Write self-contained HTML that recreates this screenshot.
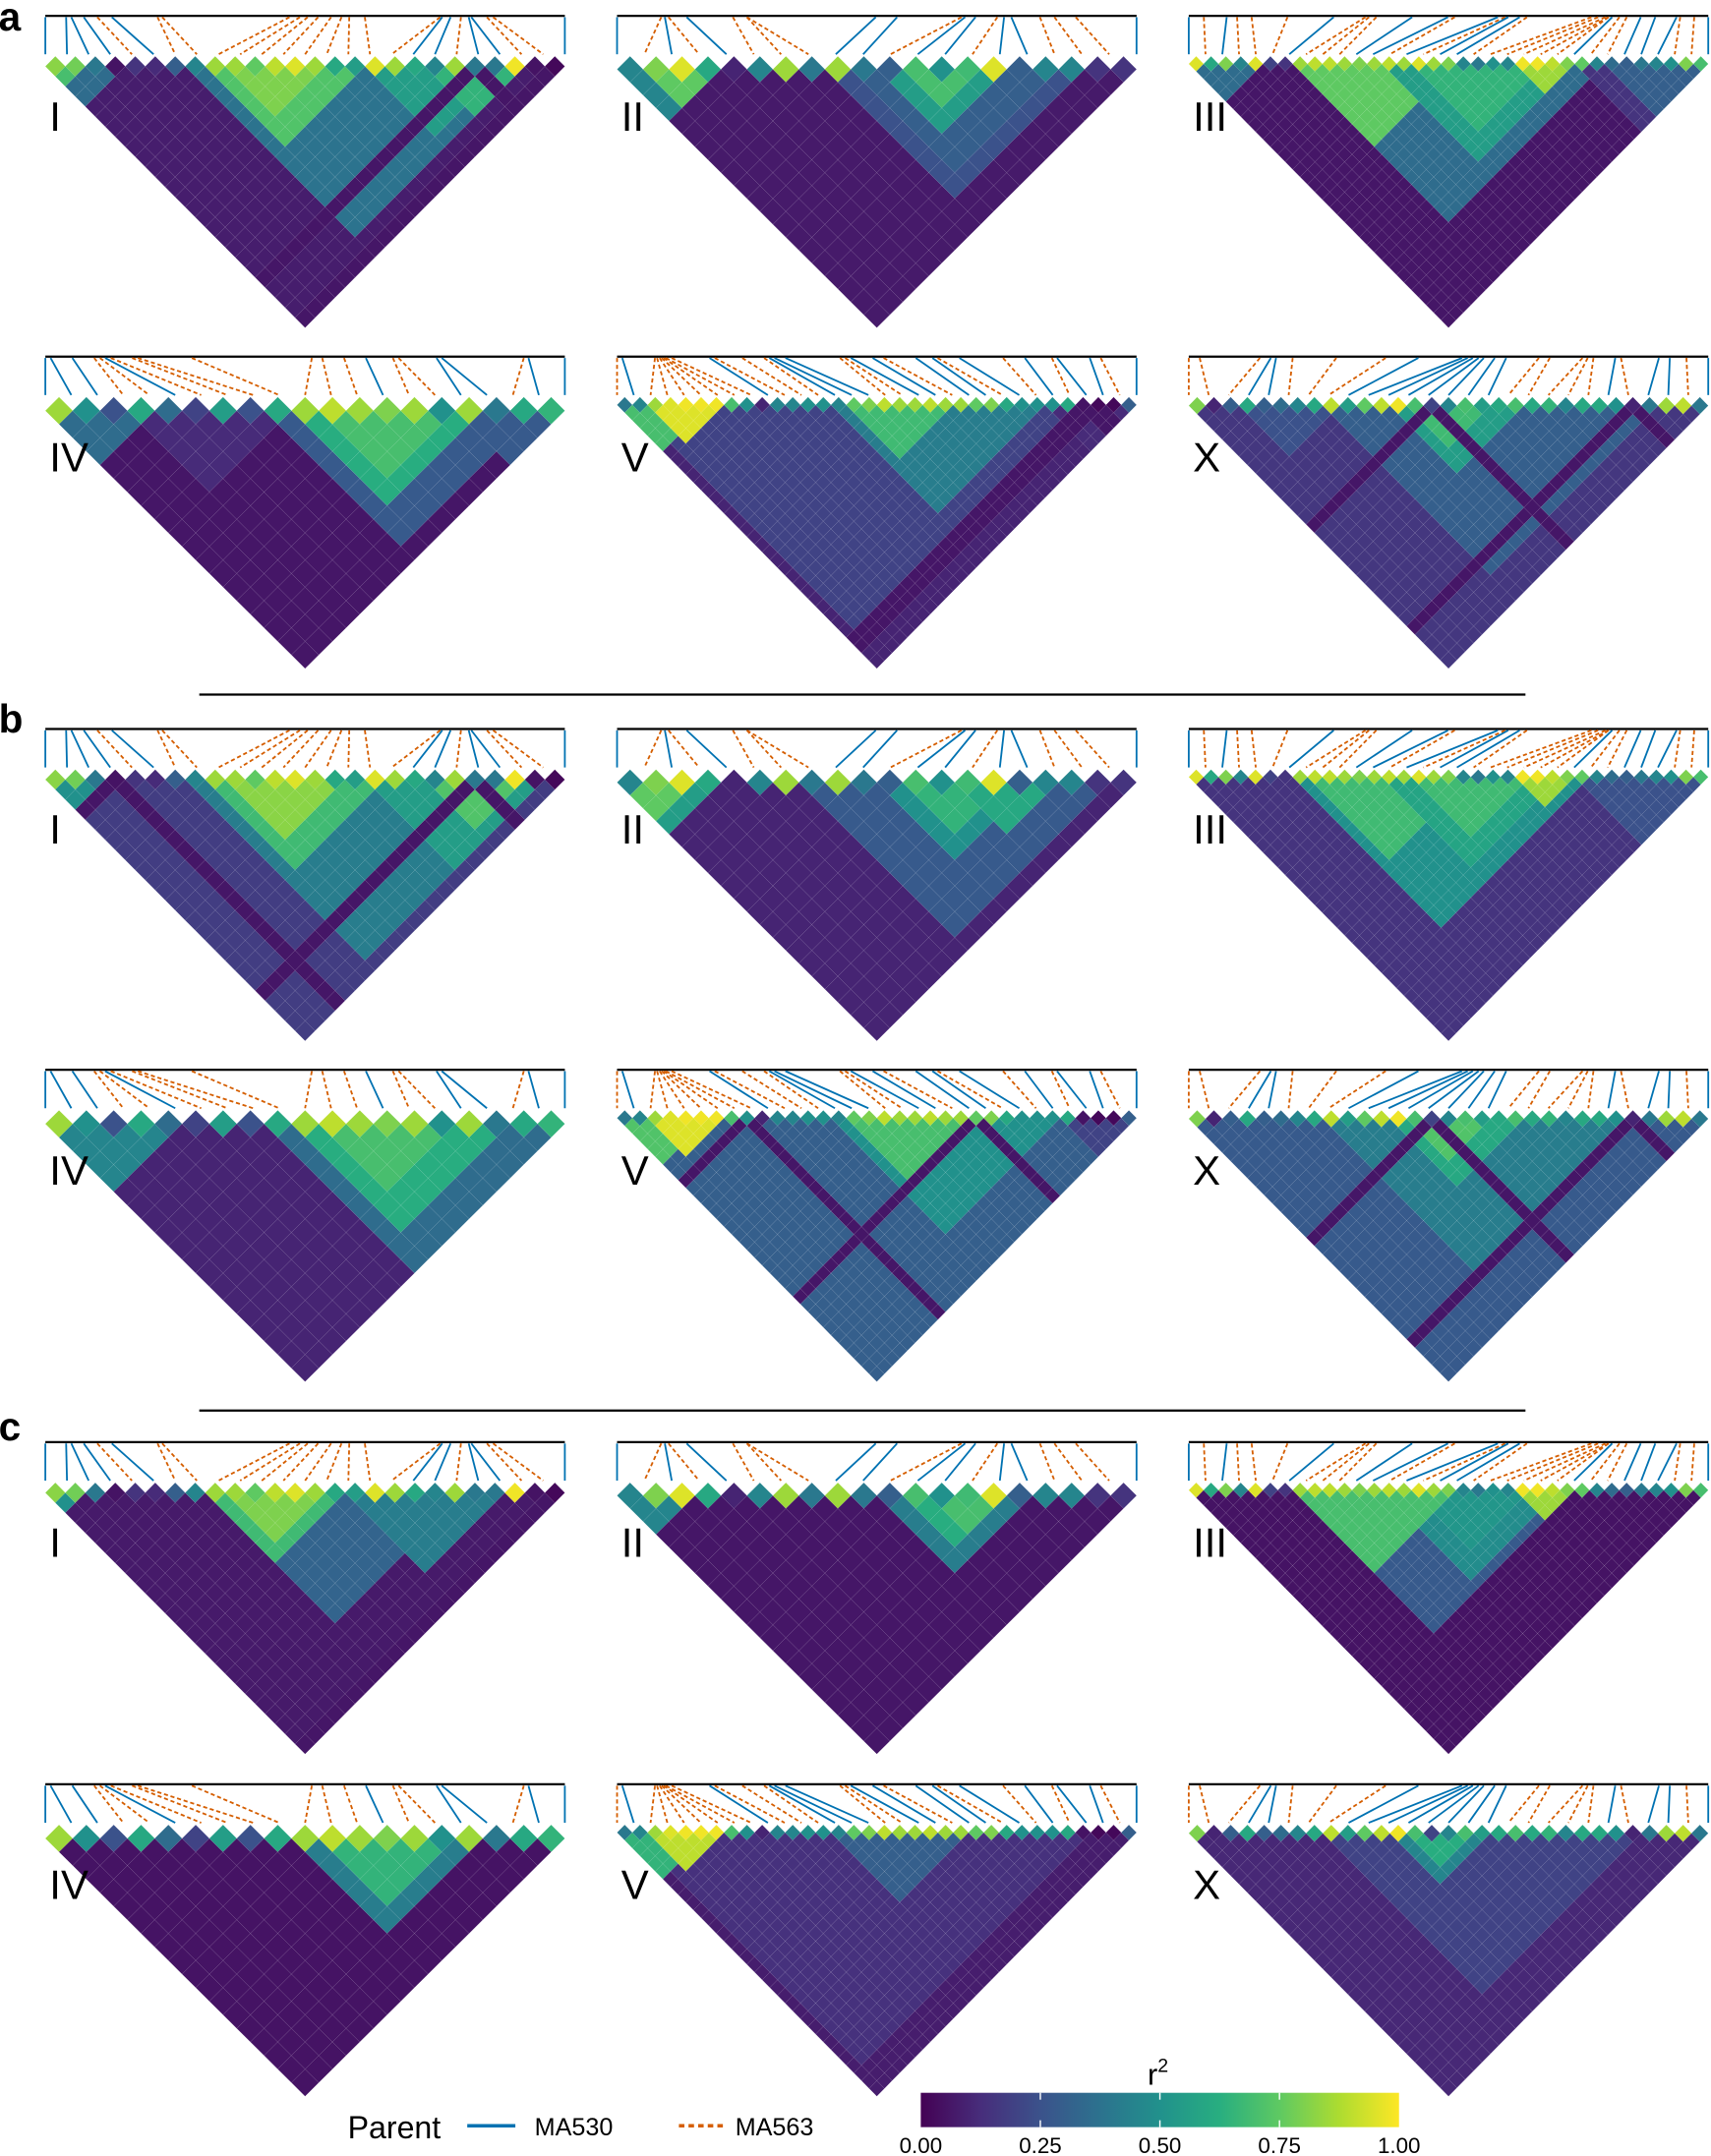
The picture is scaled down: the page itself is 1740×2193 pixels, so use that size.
<!DOCTYPE html>
<html><head><meta charset="utf-8"><title>LD heatmaps</title>
<style>
html,body{margin:0;padding:0;background:#fff;}
svg{display:block;font-family:"Liberation Sans",Arial,sans-serif;}
</style></head>
<body>
<svg id="fig" width="1740" height="2193" viewBox="0 0 1245 1569" preserveAspectRatio="none" xmlns="http://www.w3.org/2000/svg">
<g id="panels"></g>
<text x="-1" y="22" font-size="29" font-weight="bold">a</text>
<text x="-1" y="533" font-size="29" font-weight="bold">b</text>
<text x="-1" y="1048" font-size="29" font-weight="bold">c</text>
<line x1="145" y1="505.5" x2="1110" y2="505.5" stroke="#000" stroke-width="1.6"/>
<line x1="145" y1="1026.5" x2="1110" y2="1026.5" stroke="#000" stroke-width="1.6"/>
<g>
<text x="253" y="1556" font-size="23">Parent</text>
<line x1="340" y1="1547" x2="375" y2="1547" stroke="#0072b2" stroke-width="2.5"/>
<text x="389" y="1554" font-size="18">MA530</text>
<line x1="494" y1="1547" x2="529" y2="1547" stroke="#d55e00" stroke-width="2.5" stroke-dasharray="4,3"/>
<text x="535" y="1554" font-size="18">MA563</text>
</g>
<defs><linearGradient id="vir" x1="0" x2="1" y1="0" y2="0">
<stop offset="0" stop-color="#440154"/><stop offset="0.125" stop-color="#472d7b"/><stop offset="0.25" stop-color="#3b528b"/><stop offset="0.375" stop-color="#2c728e"/><stop offset="0.5" stop-color="#21918c"/><stop offset="0.625" stop-color="#28ae80"/><stop offset="0.75" stop-color="#5ec962"/><stop offset="0.875" stop-color="#addc30"/><stop offset="1" stop-color="#fde725"/>
</linearGradient></defs>
<g>
<text x="835" y="1517" font-size="22">r<tspan font-size="14" dy="-9">2</tspan></text>
<rect x="670" y="1523" width="348" height="25" fill="url(#vir)"/>
<g id="cbticks"></g>
</g>
</svg>
<script>
// ---------- data ----------
const chromNames = ["I","II","III","IV","V","X"];
const chromN = [26,20,35,19,34,31];
const linesI = [0,0.04,0.05,0.074,0.1,0.128,0.216,0.225,0.47,0.49,0.505,0.525,0.55,0.57,0.585,0.615,0.76,0.764,0.78,0.8,0.815,0.82,0.85,0.862,1.0];
const parI   = "bbbbobooooooooooobbobbo ob".replace(/ /g,"").split("");
const linesII = [0,0.085,0.092,0.099,0.134,0.223,0.25,0.25,0.498,0.539,0.663,0.67,0.69,0.732,0.745,0.759,0.814,0.842,0.883,1];
const parII   = "bobobooobbobbobbooobob".split("");
const linesIII = [0,0.029,0.073,0.093,0.121,0.19,0.279,0.34,0.347,0.361,0.43,0.499,0.512,0.595,0.609,0.615,0.637,0.651,0.775,0.788,0.802,0.808,0.808,0.815,0.829,0.843,0.87,0.898,0.939,0.946,0.973,1.0];
const parIII   = "bobooobooobbobobbooooooboobbboobbb".split("");
const linesIV = [0,0.01,0.052,0.094,0.105,0.115,0.126,0.167,0.178,0.282,0.513,0.533,0.575,0.617,0.669,0.68,0.753,0.763,0.921,0.93,1];
const parIV   = "bbbooboooooooboobbobb".split("");
const linesV = [0,0.01,0.073,0.077,0.082,0.086,0.09,0.094,0.105,0.178,0.188,0.241,0.283,0.293,0.303,0.324,0.429,0.439,0.45,0.492,0.513,0.575,0.607,0.617,0.659,0.743,0.785,0.837,0.847,0.91,0.931,1];
const parV   = "obooooooobooobbboobbobbobobobbobo".split("");
const linesX = [0,0.021,0.137,0.158,0.168,0.2,0.284,0.379,0.442,0.526,0.537,0.547,0.558,0.568,0.589,0.611,0.674,0.695,0.758,0.768,0.779,0.821,0.832,0.905,0.926,0.958,1];
const parX   = "ooobbooobbbbbbbbooooobobbobb".split("");
const topI = [0.82,0.78,0.4,0.05,0.15,0.12,0.3,0.45,0.85,0.85,0.75,0.9,0.95,0.85,0.6,0.55,0.95,0.85,0.6,0.45,0.85,0.4,0.4,0.98,0.05,0.02];
const topII = [0.45,0.8,0.95,0.6,0.1,0.45,0.85,0.4,0.85,0.4,0.3,0.7,0.5,0.68,0.95,0.3,0.45,0.45,0.15,0.15];
const topIII = [0.95,0.6,0.8,0.45,0.95,0.2,0.15,0.85,0.9,0.9,0.85,0.8,0.85,0.9,0.85,0.95,0.85,0.8,0.45,0.4,0.5,0.45,0.98,0.98,0.9,0.8,0.75,0.45,0.35,0.3,0.4,0.45,0.5,0.8,0.7];
const topIV = [0.85,0.5,0.25,0.6,0.35,0.2,0.55,0.25,0.6,0.85,0.9,0.85,0.8,0.85,0.5,0.85,0.4,0.6,0.65];
const topV = [0.4,0.45,0.85,0.95,0.98,0.98,0.98,0.7,0.5,0.1,0.45,0.45,0.5,0.5,0.45,0.75,0.8,0.9,0.85,0.85,0.9,0.85,0.85,0.75,0.8,0.6,0.5,0.5,0.5,0.6,0.05,0.02,0.02,0.3];
const topX = [0.8,0.1,0.3,0.6,0.3,0.35,0.45,0.6,0.9,0.55,0.75,0.9,0.98,0.7,0.2,0.45,0.7,0.55,0.6,0.7,0.6,0.65,0.45,0.6,0.6,0.5,0.1,0.4,0.85,0.9,0.4];
const baseA = [0.08,0.07,0.06,0.06,0.1,0.1];
const baseB = [0.12,0.1,0.1,0.08,0.2,0.18];
const baseC = [0.07,0.06,0.05,0.05,0.08,0.08];
const blocksAI = [[0,3,.35],[0,1,.7],[7,23,.38],[8,15,.72],[9,13,.8],[16,22,.55],[19,23,.65]];
const blocksAII = [[0,3,.45],[1,3,.75],[8,17,.25],[9,16,.3],[10,14,.55],[11,13,.7]];
const blocksAIII = [[0,4,.35],[7,27,.35],[7,17,.75],[13,25,.55],[15,23,.65],[22,25,.85],[26,34,.15],[28,34,.3]];
const blocksAIV = [[0,3,.35],[3,8,.12],[8,17,.28],[9,15,.62],[10,14,.7],[15,18,.28]];
const blocksAV = [[1,29,.2],[0,3,.65],[0,5,.7],[2,6,.95],[14,27,.42],[15,21,.68],[28,33,.12]];
const blocksAX = [[0,30,.16],[3,8,.25],[8,27,.3],[12,19,.55],[13,17,.68]];
const blocksBI = [[0,25,.18],[0,3,.5],[7,24,.42],[8,16,.68],[9,14,.82],[16,24,.55],[19,23,.72]];
const blocksBII = [[0,3,.55],[0,2,.75],[7,18,.28],[10,15,.5],[11,14,.65],[13,16,.6]];
const blocksBIII = [[0,34,.15],[7,26,.5],[8,18,.68],[13,24,.58],[15,22,.68],[22,25,.85],[26,34,.25]];
const blocksBIV = [[0,18,.1],[0,4,.45],[8,18,.35],[9,16,.62],[10,14,.7]];
const blocksBV = [[0,33,.3],[0,5,.72],[2,6,.95],[14,28,.5],[15,22,.7],[29,33,.2]];
const blocksBX = [[0,30,.28],[8,26,.42],[12,19,.6],[13,17,.72]];
const blocksCI = [[0,1,.5],[8,20,.32],[15,22,.42],[8,14,.68],[9,13,.8]];
const blocksCII = [[0,2,.45],[10,15,.42],[11,14,.62],[12,14,.7]];
const blocksCIII = [[7,25,.28],[13,24,.48],[15,22,.52],[7,17,.7],[22,25,.85]];
const blocksCIV = [[9,15,.42],[10,14,.65]];
const blocksCV = [[1,30,.14],[0,5,.65],[2,6,.9],[14,22,.3]];
const blocksCX = [[0,30,.11],[8,26,.2],[12,17,.45],[13,16,.62]];
const lowA = [[21,25],[],[],[],[30,31],[14,26]];
const lowB = [[3,21],[],[],[],[8,23],[14,26]];
const lowC = [[25],[],[],[],[],[]];

const chromLines = [linesI,linesII,linesIII,linesIV,linesV,linesX];
const chromPar = [parI,parII,parIII,parIV,parV,parX];
const chromTop = [topI,topII,topIII,topIV,topV,topX];
const sectionBlocks = [[blocksAI,blocksAII,blocksAIII,blocksAIV,blocksAV,blocksAX],[blocksBI,blocksBII,blocksBIII,blocksBIV,blocksBV,blocksBX],[blocksCI,blocksCII,blocksCIII,blocksCIV,blocksCV,blocksCX]];
const sectionBase = [baseA,baseB,baseC];
const sectionLow = [lowA,lowB,lowC];
const cbTicks = ["0.00","0.25","0.50","0.75","1.00"];

// ---------- rendering ----------
const NS = "http://www.w3.org/2000/svg";
const VIR = ["#440154","#472d7b","#3b528b","#2c728e","#21918c","#28ae80","#5ec962","#addc30","#fde725"];
function hex(c){return [parseInt(c.substr(1,2),16),parseInt(c.substr(3,2),16),parseInt(c.substr(5,2),16)];}
function viridis(v){
  v=Math.max(0,Math.min(1,v));const p=v*8,i=Math.min(7,Math.floor(p)),f=p-i;
  const a=hex(VIR[i]),b=hex(VIR[i+1]);
  return "rgb("+a.map((x,k)=>Math.round(x+(b[k]-x)*f)).join(",")+")";
}
function mk(tag,attrs,parent){const e=document.createElementNS(NS,tag);for(const k in attrs)e.setAttribute(k,attrs[k]);parent.appendChild(e);return e;}
const colX = [33,449,865], W = 378;
const rowY = [0,248,519,767,1038,1287];
const panelsG = document.getElementById("panels");
for(let s=0;s<3;s++){
  for(let c=0;c<6;c++){
    const oy = rowY[s*2+Math.floor(c/3)], x0 = colX[c%3];
    const n = chromN[c], hw = W/(2*n), dy = 197.5/(n+1), yt = 41+oy;
    const g = mk("g",{},panelsG);
    
    
    const bar = mk("line",{x1:x0,y1:11.5+oy,x2:x0+W,y2:11.5+oy,stroke:"#000","stroke-width":1.6},g);
    
    
    const L = chromLines[c], P = chromPar[c];
    for(let k=0;k<L.length;k++){
      const bx = x0 + W*k/(L.length-1);
      const isB = P[k]==="b";
      const ln = mk("line",{x1:x0+W*L[k],y1:12.5+oy,x2:bx,y2:39.5+oy,stroke:isB?"#0072b2":"#d55e00","stroke-width":1.3},g);
      if(!isB) ln.setAttribute("stroke-dasharray","3,2");
      
      
    }
    const blocks = sectionBlocks[s][c], base = sectionBase[s][c], low = sectionLow[s][c], top = chromTop[c];
    for(let i=0;i<n;i++){
      for(let j=i;j<n;j++){
        let v = base;
        if(i===j){ v = top[i]; }
        else {
          for(const b of blocks){ if(i>=b[0] && j<=b[1]) v=b[2]; }
          if(low.indexOf(i)>=0 || low.indexOf(j)>=0) v = Math.min(v,0.06);
        }
        const cx = x0 + ((i+j)/2+0.5)*2*hw, cy = yt + (j-i+1)*dy;
        const d = "M"+(cx)+","+(cy-dy)+"L"+(cx+hw)+","+cy+"L"+cx+","+(cy+dy)+"L"+(cx-hw)+","+cy+"Z";
        const cell = mk("path",{d:d,fill:viridis(v),stroke:"rgba(255,255,255,0.12)","stroke-width":0.3},g);
        
        
      }
    }
    const lab = mk("text",{x:x0+3,y:oy+95,"font-size":30},g);
    lab.textContent = chromNames[c];
    
    
  }
}
const cbg = document.getElementById("cbticks");
for(let k=0;k<cbTicks.length;k++){
  const x = 670 + 348*k/(cbTicks.length-1);
  if(k>0 && k<cbTicks.length-1){
    const t1 = mk("line",{x1:x,y1:1523,x2:x,y2:1528,stroke:"#fff","stroke-width":1},cbg);
    
    
    const t2 = mk("line",{x1:x,y1:1543,x2:x,y2:1548,stroke:"#fff","stroke-width":1},cbg);
    
    
  }
  const tl = mk("text",{x:x,y:1567,"font-size":16,"text-anchor":"middle"},cbg);
  tl.textContent = cbTicks[k];
  
  
}
</script>
</body></html>
